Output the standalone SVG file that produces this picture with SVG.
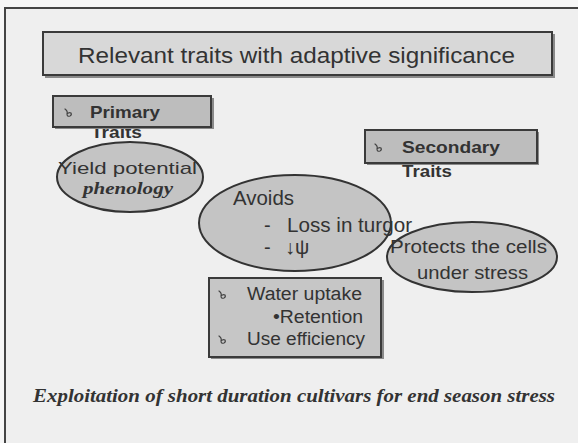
<svg xmlns="http://www.w3.org/2000/svg" width="578" height="443" viewBox="0 0 578 443">
<defs>
<style>
.sans{font-family:"Liberation Sans","DejaVu Sans",sans-serif;fill:#333}
.bold{font-weight:bold}
.serif{font-family:"Liberation Serif","Times New Roman",serif;font-weight:bold;font-style:italic;fill:#333}
.box{fill:#c8c8c8;stroke:#3a3a3a;stroke-width:2}
.shadow{fill:#8a8a8a}
.ell{fill:#c4c4c4;stroke:#333;stroke-width:2}
.ico{fill:none;stroke:#444;stroke-width:1.2;stroke-linecap:round}
</style>
<g id="bul">
<path class="ico" d="M-3,-4 Q0,-2 -1,1 Q-1,4 2,3 Q4,2 3,0 Q1,-1 -1,1"/>
</g>
</defs>
<rect x="0" y="0" width="578" height="443" fill="#f6f6f6"/>
<rect x="5" y="8" width="580" height="445" fill="#efefef" stroke="#444" stroke-width="2"/>

<g id="title">
<rect class="shadow" x="45" y="34" width="510" height="44"/>
<rect class="box" x="43" y="32" width="509" height="43" style="fill:#d8d8d8"/>
<text class="sans" x="78" y="63" font-size="22" textLength="437" lengthAdjust="spacingAndGlyphs">Relevant traits with adaptive significance</text>
</g>

<g id="primary">
<text class="sans bold" x="91" y="138" font-size="16" textLength="51" lengthAdjust="spacingAndGlyphs">Traits</text>
<rect class="shadow" x="55" y="98" width="159" height="31"/>
<rect class="box" x="53" y="96" width="158" height="31" style="fill:#bdbdbd"/>
<use href="#bul" x="68" y="113"/>
<text class="sans bold" x="90" y="118" font-size="17" textLength="70" lengthAdjust="spacingAndGlyphs">Primary</text>
</g>

<g id="secondary">
<rect class="shadow" x="367" y="132" width="172" height="33"/>
<rect class="box" x="365" y="130" width="172" height="33" style="fill:#bdbdbd"/>
<use href="#bul" x="378" y="148"/>
<text class="sans bold" x="402" y="153" font-size="17" textLength="98" lengthAdjust="spacingAndGlyphs">Secondary</text>
<text class="sans bold" x="402" y="177" font-size="16" textLength="50" lengthAdjust="spacingAndGlyphs">Traits</text>
</g>

<g id="yield">
<ellipse class="ell" cx="130" cy="177" rx="73" ry="35"/>
<text class="sans" x="58" y="174" font-size="17" textLength="139" lengthAdjust="spacingAndGlyphs">Yield potential</text>
<text class="serif" x="83" y="194" font-size="17" textLength="90" lengthAdjust="spacingAndGlyphs">phenology</text>
</g>

<g id="avoids">
<ellipse class="ell" cx="295" cy="223" rx="96" ry="48"/>
<text class="sans" x="233" y="205" font-size="20" textLength="61" lengthAdjust="spacingAndGlyphs">Avoids</text>
<text class="sans" x="264" y="232" font-size="20">-</text>
<text class="sans" x="287" y="232" font-size="20" textLength="125" lengthAdjust="spacingAndGlyphs">Loss in turgor</text>
<text class="sans" x="264" y="254" font-size="20">-</text>
<text class="sans" x="285" y="254" font-size="20">↓ψ</text>
</g>

<g id="protects">
<ellipse class="ell" cx="472" cy="257" rx="85" ry="35"/>
<text class="sans" x="390" y="253" font-size="18" textLength="157" lengthAdjust="spacingAndGlyphs">Protects the cells</text>
<text class="sans" x="417" y="279" font-size="18" textLength="111" lengthAdjust="spacingAndGlyphs">under stress</text>
</g>

<g id="water">
<rect class="shadow" x="211" y="280" width="173" height="79"/>
<rect class="box" x="209" y="278" width="172" height="79" style="fill:#c6c6c6"/>
<use href="#bul" x="222" y="295"/>
<text class="sans" x="247" y="300" font-size="18" textLength="115" lengthAdjust="spacingAndGlyphs">Water uptake</text>
<text class="sans" x="273" y="323" font-size="18" textLength="90" lengthAdjust="spacingAndGlyphs">•Retention</text>
<use href="#bul" x="222" y="340"/>
<text class="sans" x="247" y="345" font-size="18" textLength="118" lengthAdjust="spacingAndGlyphs">Use efficiency</text>
</g>

<g id="connectors"></g>

<text class="serif" x="33" y="402" font-size="19" textLength="522" lengthAdjust="spacingAndGlyphs">Exploitation of short duration cultivars for end season stress</text>
</svg>
